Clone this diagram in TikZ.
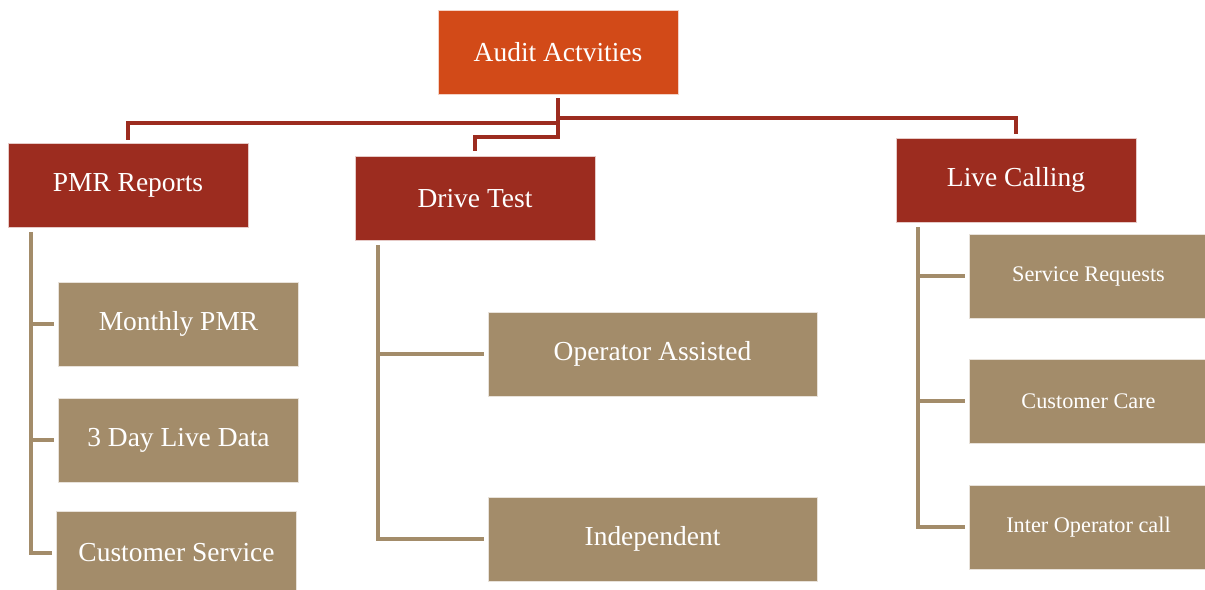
\documentclass[tikz,border=0pt]{standalone}
\usepackage{fontspec}
\setmainfont{Liberation Serif}
\definecolor{auditor}{HTML}{D24A18}
\definecolor{darkred}{HTML}{9C2C1F}
\definecolor{tanbox}{HTML}{A38C6A}
\tikzset{
  basebox/.style={inner sep=0pt, text=white, minimum height=63pt, align=center, draw=white!75!#1, line width=0.5pt, fill=#1},
  topbox/.style={basebox=auditor, minimum width=180pt, font=\fontsize{20.6pt}{24pt}\selectfont},
  catbox/.style={basebox=darkred, minimum width=180pt, font=\fontsize{20.6pt}{24pt}\selectfont},
  itembox/.style={basebox=tanbox, minimum width=180pt, font=\fontsize{20.6pt}{24pt}\selectfont},
  widebox/.style={basebox=tanbox, minimum width=246.75pt, font=\fontsize{20.6pt}{24pt}\selectfont},
  smallbox/.style={basebox=tanbox, minimum width=179.25pt, font=\fontsize{16.7pt}{20pt}\selectfont},
  redline/.style={draw=darkred, line width=2.4pt},
  tanline/.style={draw=tanbox, line width=2.4pt, shorten >=3pt},
}
\begin{document}
\begin{tikzpicture}[x=0.75pt, y=-0.75pt]
\useasboundingbox (0,0) rectangle (1205,589);
% top
\node[topbox] (audit) at (558,52) {Audit Actvities};
% categories
\node[catbox] (pmr) at (128,185) {PMR Reports};
\node[catbox] (drive) at (475,198.5) {Drive Test};
\node[catbox] (live) at (1016,180) {Live Calling};
% items
\node[itembox] (mpmr) at (178.5,324) {Monthly PMR};
\node[itembox] (tdl) at (178.5,440) {3 Day Live Data};
\node[itembox] (cs) at (176.5,553) {Customer Service};
\node[widebox] (opa) at (652.5,354) {Operator Assisted};
\node[widebox] (ind) at (652.5,539) {Independent};
\node[smallbox] (sr) at (1088.5,276) {Service Requests};
\node[smallbox] (cc) at (1088.5,401) {Customer Care};
\node[smallbox] (ioc) at (1088.5,527) {Inter Operator call};
% junctions
\coordinate (jp) at (128,123);
\coordinate (jd) at (475,137);
\coordinate (jl) at (1016,118);
\coordinate (sp) at (31,232);
\coordinate (sd) at (378,245);
\coordinate (sl) at (918,227);
% red connectors
\draw[redline] ([yshift=-3pt]audit.south) |- (jp) -- ([yshift=2.25pt]pmr.north);
\draw[redline] ([yshift=-3pt]audit.south) |- (jd) -- ([yshift=3.75pt]drive.north);
\draw[redline] ([yshift=-3pt]audit.south) |- (jl) -- ([yshift=3pt]live.north);
% tan connectors
\draw[tanline] (sp) |- (mpmr.west);
\draw[tanline] (sp) |- (tdl.west);
\draw[tanline] (sp) |- (cs.west);
\draw[tanline] (sd) |- (opa.west);
\draw[tanline] (sd) |- (ind.west);
\draw[tanline] (sl) |- (sr.west);
\draw[tanline] (sl) |- (cc.west);
\draw[tanline] (sl) |- (ioc.west);
\end{tikzpicture}
\end{document}
